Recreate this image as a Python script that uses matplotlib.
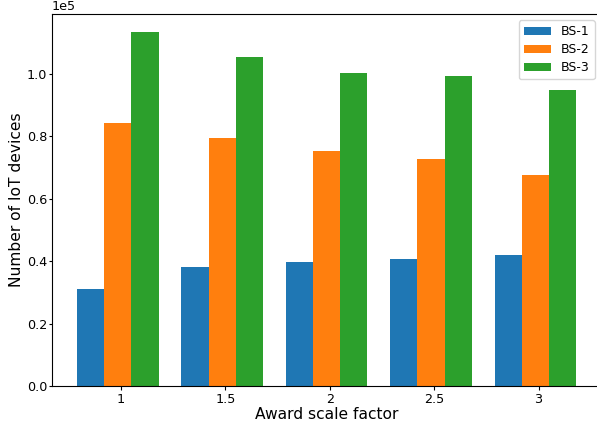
import numpy as np
import matplotlib
matplotlib.use("Agg")
import matplotlib.pyplot as plt

# award scale factors and number of IoT devices per base station
factors = ["1", "1.5", "2", "2.5", "3"]
bs1 = [31100, 38100, 39700, 40700, 42000]
bs2 = [84300, 79500, 75300, 72800, 67600]
bs3 = [113500, 105400, 100300, 99400, 94900]

series = [("BS-1", bs1, "#1f77b4"), ("BS-2", bs2, "#ff7f0e"), ("BS-3", bs3, "#2ca02c")]

fig = plt.figure(figsize=(5.97, 4.26), dpi=100)
ax = fig.add_axes([0.0871, 0.094, 0.92, 0.873])

x = np.arange(len(factors))
width = 0.26
for i, (name, vals, col) in enumerate(series):
    ax.bar(x + (i - 1) * width, vals, width, label=name, color=col)

ax.set_xticks(x + 0.03)
ax.set_xticklabels(factors, fontsize=9.2)
ax.tick_params(axis="x", length=2.9, pad=2.2)
ax.tick_params(axis="y", labelsize=9.2, length=1.9, pad=1.5)
ax.ticklabel_format(axis="y", style="sci", scilimits=(0, 0))
ax.yaxis.get_offset_text().set_fontsize(9.2)
ax.set_xlabel("Award scale factor", fontsize=11.2, labelpad=1)
ax.set_ylabel("Number of IoT devices", fontsize=11.2, labelpad=2)
ax.set_xlim(-0.63, 4.63)
ax.legend(loc="upper right", fontsize=9, labelspacing=0.4, handlelength=2.2)

fig.savefig("out.png", dpi=100)
